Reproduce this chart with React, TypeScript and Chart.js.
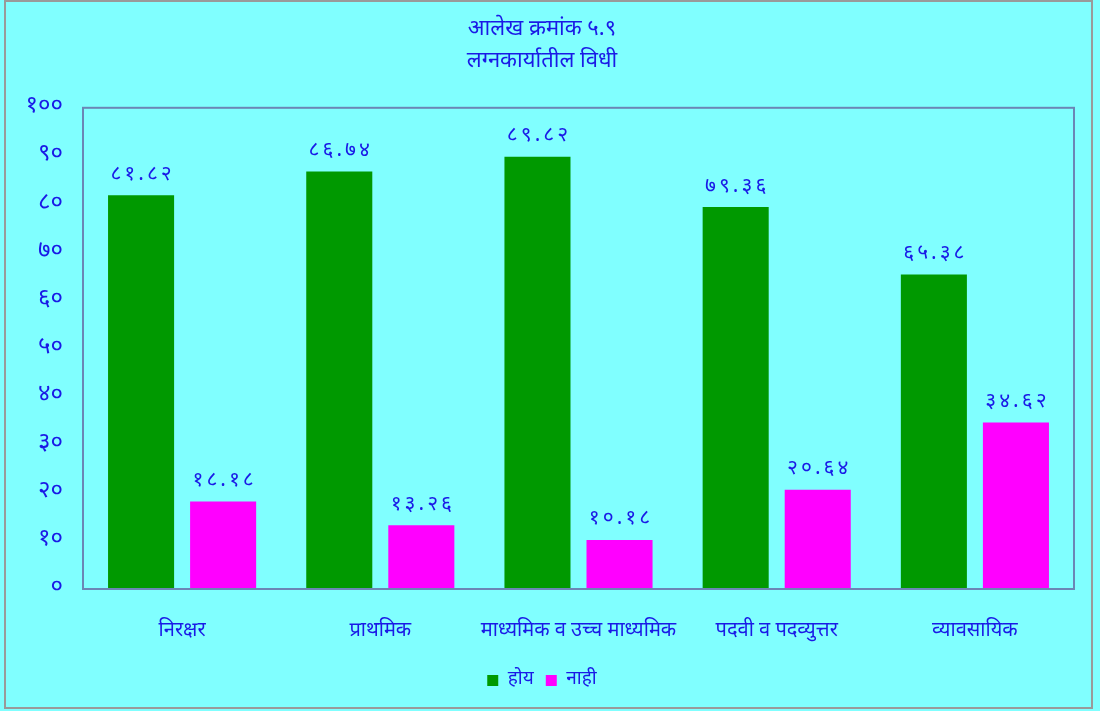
import React, { useEffect, useRef } from "react";
import { Chart, registerables } from "chart.js";

Chart.register(...registerables);

const titleLines = ["आलेख क्रमांक ५.९", "लग्नकार्यातील विधी"];
const categories = [
  "निरक्षर",
  "प्राथमिक",
  "माध्यमिक व उच्च माध्यमिक",
  "पदवी व पदव्युत्तर",
  "व्यावसायिक",
];
const seriesNames = ["होय", "नाही"];
const yesValues = [81.82, 86.74, 89.82, 79.36, 65.38];
const noValues = [18.18, 13.26, 10.18, 20.64, 34.62];
const yTicks = [0, 10, 20, 30, 40, 50, 60, 70, 80, 90, 100];

const DEV_DIGITS = "०१२३४५६७८९";
const toDev = (s: string) => s.replace(/[0-9]/g, (d) => DEV_DIGITS[Number(d)]);

const BG = "#80FFFF";
const TEXT = "#1a1ae6";
const FONT = "'Noto Sans Devanagari', 'Noto Sans', sans-serif";

export default function App() {
  const ref = useRef<HTMLCanvasElement | null>(null);

  useEffect(() => {
    document.body.style.margin = "0";
    const canvas = ref.current!;

    const framePlugin = {
      id: "frame",
      beforeDraw(chart: any) {
        const { ctx, width, height } = chart;
        ctx.save();
        ctx.fillStyle = BG;
        ctx.fillRect(0, 0, width, height);
        ctx.strokeStyle = "#9a9a9a";
        ctx.lineWidth = 2;
        ctx.strokeRect(5, 1, width - 13, height - 4);
        ctx.restore();
      },
      afterDraw(chart: any) {
        const { ctx, chartArea } = chart;
        ctx.save();
        ctx.strokeStyle = "#6b86b5";
        ctx.lineWidth = 2;
        ctx.strokeRect(
          chartArea.left,
          chartArea.top,
          chartArea.right - chartArea.left,
          chartArea.bottom - chartArea.top
        );
        ctx.restore();
      },
    };

    const labelPlugin = {
      id: "barLabels",
      afterDatasetsDraw(chart: any) {
        const { ctx } = chart;
        ctx.save();
        ctx.fillStyle = TEXT;
        ctx.font = `21px ${FONT}`;
        (ctx as any).letterSpacing = "3px";
        ctx.textAlign = "center";
        ctx.textBaseline = "bottom";
        chart.data.datasets.forEach((ds: any, di: number) => {
          const meta = chart.getDatasetMeta(di);
          meta.data.forEach((bar: any, i: number) => {
            const v = ds.data[i] as number;
            ctx.fillText(toDev(v.toFixed(2)), bar.x + 1.5, bar.y - 9);
          });
        });
        ctx.restore();
      },
    };

    const chart = new Chart(canvas, {
      type: "bar",
      data: {
        labels: categories,
        datasets: [
          {
            label: seriesNames[0],
            data: yesValues,
            backgroundColor: "#009900",
            categoryPercentage: 0.828,
            barPercentage: 0.805,
          },
          {
            label: seriesNames[1],
            data: noValues,
            backgroundColor: "#FF00FF",
            categoryPercentage: 0.828,
            barPercentage: 0.805,
          },
        ],
      },
      options: {
        responsive: false,
        animation: false,
        layout: { padding: { top: 10, left: 10, right: 26, bottom: 11 } },
        plugins: {
          title: {
            display: true,
            text: titleLines,
            color: TEXT,
            font: { family: FONT, size: 22, weight: "normal", lineHeight: 1.45 },
            padding: { top: 5, bottom: 29 },
          },
          legend: {
            position: "bottom",
            labels: {
              color: TEXT,
              font: { family: FONT, size: 19 },
              boxWidth: 11,
              boxHeight: 11,
              padding: 12,
            },
          },
          tooltip: { enabled: false },
        },
        scales: {
          x: {
            grid: { display: false, drawTicks: false },
            border: { display: false },
            ticks: {
              color: TEXT,
              font: { family: FONT, size: 20 },
              padding: 31,
              maxRotation: 0,
              autoSkip: false,
            },
            afterFit(scale: any) {
              scale.height = 70;
            },
          },
          y: {
            min: 0,
            max: 100,
            afterBuildTicks(scale: any) {
              scale.ticks = yTicks.map((v) => ({ value: v }));
            },
            grid: { display: false, drawTicks: false },
            border: { display: false },
            ticks: {
              color: TEXT,
              font: { family: FONT, size: 24 },
              padding: 20,
              callback: (v: any) => toDev(String(v)),
            },
            afterFit(scale: any) {
              scale.width = 73;
            },
          },
        },
      },
      plugins: [framePlugin, labelPlugin],
    });

    return () => chart.destroy();
  }, []);

  return <canvas ref={ref} width={1100} height={711} />;
}
